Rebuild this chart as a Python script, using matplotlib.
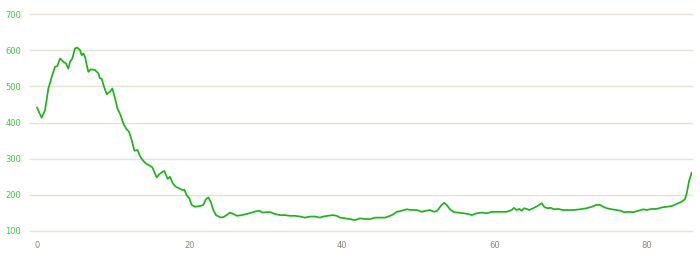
import matplotlib
matplotlib.use("Agg")
import matplotlib.pyplot as plt

distance = [0.0, 0.61, 1.05, 1.49, 1.93, 2.36, 2.67, 3.02, 3.45, 3.80, 4.11, 4.33, 4.63,
            4.98, 5.29, 5.64, 5.86, 6.08, 6.30, 6.52, 6.73, 7.04, 7.60, 8.04, 8.26, 8.48,
            8.79, 9.14, 9.35, 9.57, 9.88, 10.23, 10.54, 10.97, 11.32, 11.67, 12.07, 12.42,
            12.77, 13.20, 13.50, 13.86, 14.25, 14.69, 15.12, 15.70, 16.04, 16.48, 16.70,
            16.92, 17.14, 17.44, 17.80, 18.23, 18.67, 19.11, 19.33, 19.63, 19.98, 20.28,
            20.72, 21.38, 21.81, 22.16, 22.47, 22.78, 23.12, 23.47, 24.00, 24.43, 24.87,
            25.31, 25.75, 26.19, 26.85, 27.50, 28.16, 28.81, 29.16, 29.60, 30.12, 30.64,
            31.21, 31.87, 32.52, 33.18, 33.84, 34.49, 35.15, 35.80, 36.46, 37.11, 37.55,
            38.20, 38.77, 39.30, 39.74, 40.39, 41.05, 41.70, 42.36, 43.02, 43.67, 44.33,
            44.98, 45.64, 46.20, 46.73, 47.17, 47.83, 48.48, 49.14, 49.80, 50.45, 51.02,
            51.54, 52.07, 52.50, 52.94, 53.38, 53.73, 54.16, 54.69, 55.26, 55.91, 56.57,
            57.01, 57.67, 58.32, 58.98, 59.63, 60.29, 60.94, 61.60, 62.25, 62.56, 62.91,
            63.26, 63.56, 63.87, 64.22, 64.57, 65.09, 65.62, 66.19, 66.49, 66.93, 67.37,
            67.80, 68.37, 68.94, 69.47, 70.34, 71.21, 72.09, 72.75, 73.31, 73.84, 74.27,
            74.71, 75.37, 76.02, 76.55, 76.98, 77.55, 78.20, 78.86, 79.52, 79.96, 80.61,
            81.27, 81.92, 82.58, 83.24, 83.90, 84.55, 84.98, 85.20, 85.55, 85.86]

elevation = [441, 413, 434, 494, 526, 554, 556, 577, 568, 563, 549, 568, 577,
             605, 607, 600, 586, 591, 581, 559, 540, 547, 545, 536, 522, 521,
             499, 478, 482, 485, 494, 467, 439, 420, 397, 384, 374, 351,
             322, 324, 307, 296, 287, 282, 276, 248, 257, 264, 266,
             255, 244, 250, 232, 222, 218, 213, 214, 199, 190, 172,
             167, 169, 172, 188, 193, 181, 158, 144, 138, 138, 144,
             151, 147, 142, 144, 147, 151, 155, 156, 151, 152, 152,
             147, 144, 144, 142, 142, 140, 137, 140, 140, 137, 140,
             142, 144, 142, 137, 135, 133, 130, 135, 133, 133, 137,
             137, 137, 141, 146, 153, 156, 160, 158, 158, 153, 156,
             158, 153, 156, 169, 178, 172, 160, 152, 151, 149, 147,
             144, 149, 151, 149, 153, 153, 153, 153, 158, 164, 158,
             161, 156, 163, 161, 158, 163, 169, 177, 167, 163, 164,
             160, 161, 158, 158, 158, 160, 163, 167, 172, 172, 167,
             163, 160, 158, 156, 152, 153, 152, 156, 160, 158, 161,
             161, 165, 167, 169, 175, 181, 188, 204, 241, 261]

x_ticks = [0, 20, 40, 60, 80]
y_ticks = [100, 200, 300, 400, 500, 600, 700]

fig = plt.figure(figsize=(7.0, 2.56), dpi=100, facecolor="#ffffff")
ax = fig.add_axes([30/700, 1 - 231/256, (692 - 30)/700, (231 - 14)/256])
ax.set_facecolor("#ffffff")

ax.plot(distance, elevation, color="#1cb41c", linewidth=1.25, solid_joinstyle="round",
        zorder=3)

ax.set_xlim(-0.92, 85.9)
ax.set_ylim(100, 700)
ax.set_xticks(x_ticks)
ax.set_yticks(y_ticks)
ax.set_xticklabels([str(v) for v in x_ticks], fontsize=6.0, color="#8c8472")
ax.set_yticklabels([str(v) for v in y_ticks], fontsize=6.0, color="#3cc83c")
ax.tick_params(axis="both", length=0)
ax.tick_params(axis="y", pad=6.5)
ax.tick_params(axis="x", pad=7)
ax.grid(axis="y", color="#e6e3d2", linewidth=1.0)
for gl in ax.get_ygridlines():
    gl.set_clip_on(False)
ax.set_axisbelow(True)
for s in ax.spines.values():
    s.set_visible(False)

fig.savefig("out.png", dpi=100, facecolor=fig.get_facecolor())
